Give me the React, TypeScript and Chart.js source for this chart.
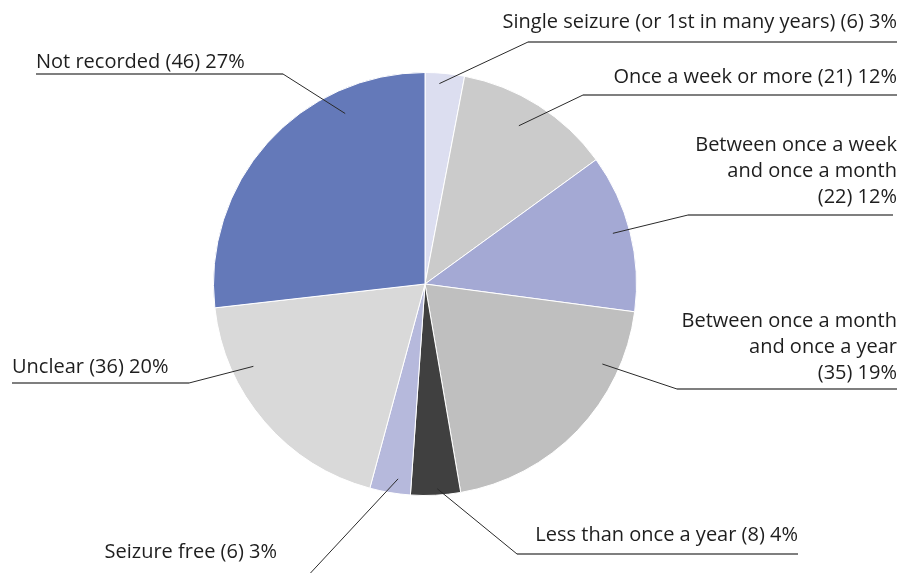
import React, { useEffect, useRef } from "react";
import { Chart, registerables } from "chart.js";

Chart.register(...registerables);

// Categories (clockwise from 12 o'clock)
const categories = [
  "Single seizure",
  "Once a week or more",
  "Between once a week and once a month",
  "Between once a month and once a year",
  "Less than once a year",
  "Seizure free",
  "Unclear",
  "Not recorded",
];
// Slice shares (%)
const shares = [3.0, 12.0, 12.1, 20.2, 3.8, 3.1, 19.0, 26.8];
// Label texts (counts and printed percentages)
const labelLines: string[][] = [
  ["Single seizure (or 1st in many years) (6) 3%"],
  ["Once a week or more (21) 12%"],
  ["Between once a week", "and once a month", "(22) 12%"],
  ["Between once a month", "and once a year", "(35) 19%"],
  ["Less than once a year (8) 4%"],
  ["Seizure free (6) 3%"],
  ["Unclear (36) 20%"],
  ["Not recorded (46) 27%"],
];
const colors = [
  "#dcdef0",
  "#cbcbcb",
  "#a4a9d4",
  "#bfbfbf",
  "#404040",
  "#b6b9dc",
  "#d9d9d9",
  "#6479b9",
];

// Label layout, relative to pie centre (px). t: fraction along slice angle, rf: fraction of radius
type Layout = {
  t: number;
  rf: number;
  ex: number;
  ey: number;
  ux: number; // far end of underline
  align: "left" | "right";
  tx: number;
  ty: number[];
};
const layouts: Layout[] = [
  { t: 0.38, rf: 0.95, ex: 103, ey: -242, ux: 472, align: "right", tx: 472, ty: [-262] },
  { t: 0.46, rf: 0.87, ex: 158, ey: -189, ux: 472, align: "right", tx: 472, ty: [-207] },
  { t: 0.48, rf: 0.92, ex: 263, ey: -69, ux: 468, align: "right", tx: 472, ty: [-139, -113, -87] },
  { t: 0.23, rf: 0.92, ex: 252, ey: 105, ux: 472, align: "right", tx: 472, ty: [37, 63, 89] },
  { t: 0.46, rf: 0.97, ex: 92, ey: 270, ux: 373, align: "right", tx: 373, ty: [251] },
  { t: 0.35, rf: 0.93, ex: -121, ey: 296, ux: -321, align: "right", tx: -148, ty: [268] },
  { t: 0.72, rf: 0.9, ex: -236, ey: 99, ux: -413, align: "left", tx: -413, ty: [83] },
  { t: 0.74, rf: 0.89, ex: -142, ey: -210, ux: -389, align: "left", tx: -389, ty: [-222] },
];

const labelPlugin = {
  id: "leaderLabels",
  afterDatasetsDraw(chart: any) {
    const ctx = chart.ctx;
    const meta = chart.getDatasetMeta(0);
    ctx.save();
    meta.data.forEach((arc: any, i: number) => {
      const p = arc.getProps(["x", "y", "startAngle", "endAngle", "outerRadius"], true);
      const L = layouts[i];
      const a = p.startAngle + L.t * (p.endAngle - p.startAngle);
      const ax = p.x + Math.cos(a) * p.outerRadius * L.rf;
      const ay = p.y + Math.sin(a) * p.outerRadius * L.rf;
      const ex = p.x + L.ex;
      const ey = p.y + L.ey;
      ctx.strokeStyle = "#2a2a2a";
      ctx.lineWidth = 1;
      ctx.beginPath();
      ctx.moveTo(ax, ay);
      ctx.lineTo(ex, ey);
      ctx.stroke();
      ctx.strokeStyle = "#555555";
      ctx.lineWidth = 1.5;
      ctx.beginPath();
      ctx.moveTo(ex, ey);
      ctx.lineTo(p.x + L.ux, ey);
      ctx.stroke();
      ctx.fillStyle = "#1e1e1e";
      ctx.font = "20px 'Open Sans', sans-serif";
      ctx.textAlign = L.align;
      ctx.textBaseline = "middle";
      labelLines[i].forEach((line, j) => {
        ctx.fillText(line, p.x + L.tx, p.y + L.ty[j]);
      });
    });
    ctx.restore();
  },
};

export default function App() {
  const ref = useRef<HTMLCanvasElement | null>(null);
  useEffect(() => {
    document.body.style.margin = "0";
    if (!ref.current) return;
    const chart = new Chart(ref.current, {
      type: "pie",
      data: {
        labels: categories,
        datasets: [
          {
            data: shares,
            backgroundColor: colors,
            borderColor: "#ffffff",
            borderWidth: 1,
          },
        ],
      },
      options: {
        responsive: false,
        animation: false,
        devicePixelRatio: 1,
        layout: { padding: { top: 72, bottom: 77, left: 0, right: 53 } },
        plugins: {
          legend: { display: false },
          tooltip: { enabled: false },
        },
      },
      plugins: [labelPlugin],
    });
    return () => chart.destroy();
  }, []);
  return (
    <div style={{ width: 903, height: 573, background: "#ffffff" }}>
      <canvas ref={ref} width={903} height={573} style={{ display: "block" }} />
    </div>
  );
}
